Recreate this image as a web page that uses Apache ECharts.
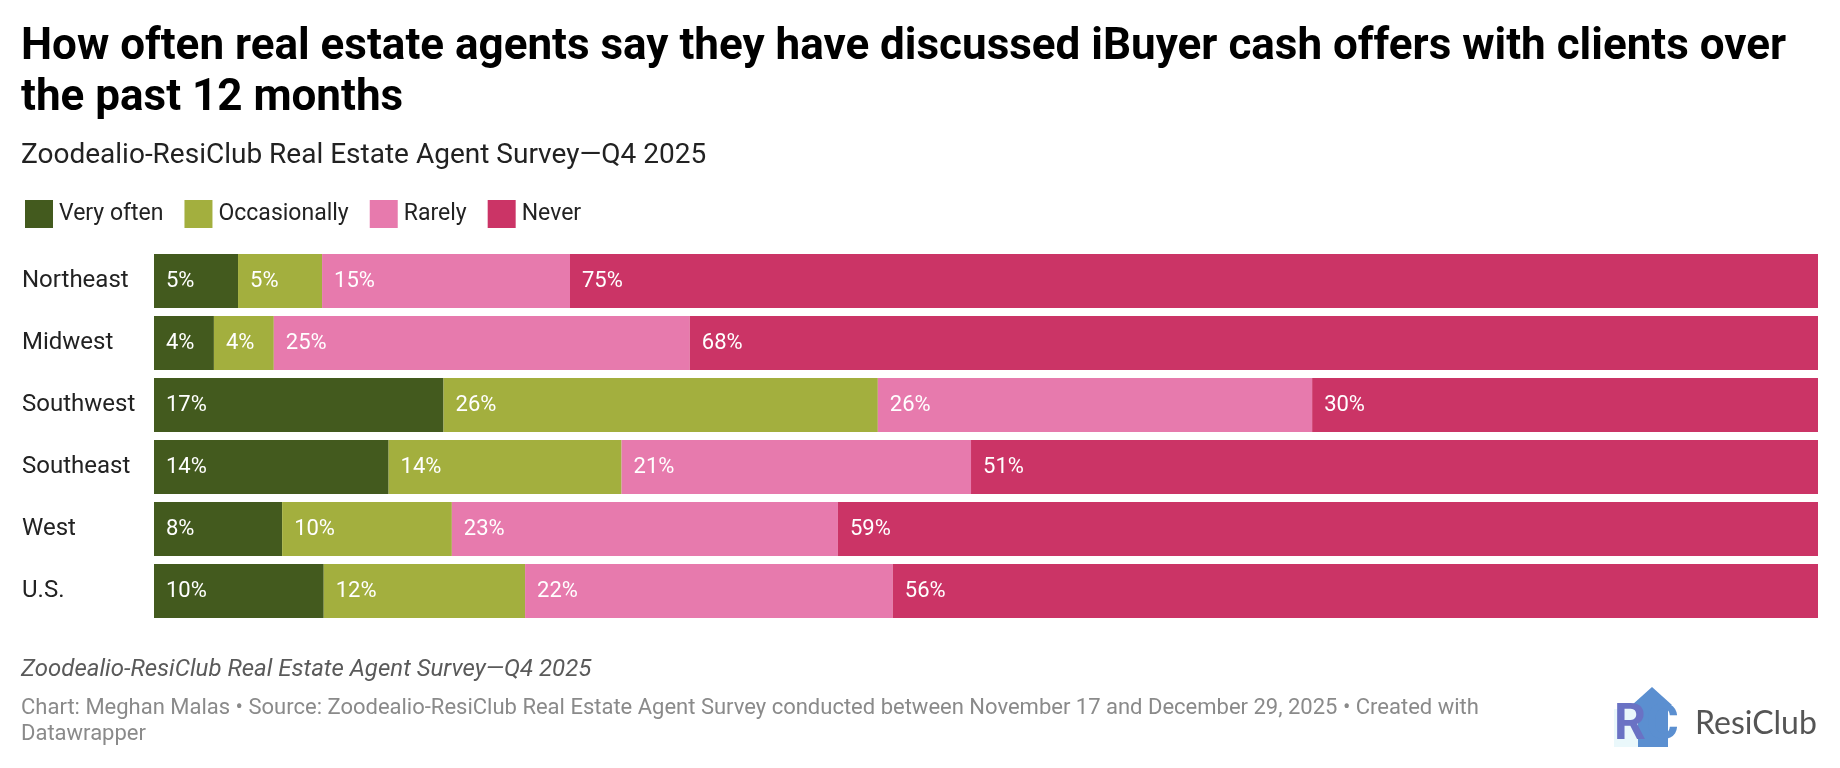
<!DOCTYPE html>
<html>
<head>
<meta charset="utf-8">
<script src="https://cdn.jsdelivr.net/npm/echarts@6/dist/echarts.min.js"></script>
<style>
html,body{margin:0;padding:0;background:#fff;}
#chart{width:1840px;height:768px;}
</style>
</head>
<body>
<div id="chart"></div>
<script>
const categories = ['Northeast', 'Midwest', 'Southwest', 'Southeast', 'West', 'U.S.'];
const seriesNames = ['Very often', 'Occasionally', 'Rarely', 'Never'];
const veryOften    = [5.05, 3.6, 17.4, 14.1, 7.7, 10.2];
const occasionally = [5.05, 3.6, 26.1, 14.0, 10.2, 12.1];
const rarely       = [14.9, 25.0, 26.1, 21.0, 23.2, 22.1];
const never        = [75.0, 67.8, 30.4, 50.9, 58.9, 55.6];
const colors = ['#435a1e', '#a3af3e', '#e77aad', '#cb3466'];

const titleLines = [
  'How often real estate agents say they have discussed iBuyer cash offers with clients over',
  'the past 12 months'
];
const subtitle = 'Zoodealio-ResiClub Real Estate Agent Survey\u2014Q4 2025';
const notes = 'Zoodealio-ResiClub Real Estate Agent Survey\u2014Q4 2025';
const sourceLines = [
  'Chart: Meghan Malas \u2022 Source: Zoodealio-ResiClub Real Estate Agent Survey conducted between November 17 and December 29, 2025 \u2022 Created with',
  'Datawrapper'
];

const allValues = [veryOften, occasionally, rarely, never];
const FONT = 'Roboto, "Noto Sans", sans-serif';

const chart = echarts.init(document.getElementById('chart'), null, {renderer: 'canvas'});

const series = seriesNames.map((name, i) => ({
  name: name,
  type: 'bar',
  stack: 'total',
  barWidth: 54,
  data: allValues[i],
  itemStyle: {color: colors[i]},
  emphasis: {disabled: true},
  label: {
    show: true,
    position: 'insideLeft',
    distance: 12,
    color: '#ffffff',
    fontFamily: FONT,
    fontSize: 22,
    formatter: p => Math.round(p.value) + '%'
  }
}));

chart.setOption({
  animation: false,
  backgroundColor: '#ffffff',
  textStyle: {fontFamily: FONT},
  legend: {
    left: 20,
    top: 195,
    itemWidth: 28,
    itemHeight: 28,
    itemGap: 21,
    icon: 'rect',
    selectedMode: false,
    data: seriesNames,
    textStyle: {fontFamily: FONT, fontSize: 23, color: '#222222', padding: [0, 0, 0, 1]}
  },
  grid: {left: 154, right: 22, top: 250, height: 372, containLabel: false},
  xAxis: {
    type: 'value', min: 0, max: 100, show: false
  },
  yAxis: {
    type: 'category',
    data: categories,
    inverse: true,
    axisLine: {show: false},
    axisTick: {show: false},
    axisLabel: {
      align: 'left',
      margin: 132,
      fontFamily: FONT,
      fontSize: 24,
      color: '#222222'
    }
  },
  series: series,
  graphic: [
    {type: 'text', left: 21, top: 26, style: {text: titleLines[0], font: 'bold 44px Roboto', fill: '#000000'}},
    {type: 'text', left: 21, top: 77, style: {text: titleLines[1], font: 'bold 44px Roboto', fill: '#000000'}},
    {type: 'text', left: 21, top: 142, style: {text: subtitle, font: '28px Roboto', fill: '#222222'}},
    {type: 'text', left: 21, top: 658, style: {text: notes, font: 'italic 24px Roboto', fill: '#5a5a5a'}},
    {type: 'text', left: 21, top: 697, style: {text: sourceLines[0], font: '22px Roboto', fill: '#8a8a8a'}},
    {type: 'text', left: 21, top: 723, style: {text: sourceLines[1], font: '22px Roboto', fill: '#8a8a8a'}},
    {type: 'group', left: 1614, top: 687, children: [
      {type: 'polygon', shape: {points: [[18, 18], [38, 0], [58, 18], [54, 18], [54, 60], [22, 60], [22, 18]]}, style: {fill: '#5b8fd0'}},
      {type: 'rect', shape: {x: 0, y: 22, width: 24, height: 38}, style: {fill: '#eaf8fb'}},
      {type: 'text', left: 0, top: 14, style: {text: 'R', font: 'bold 50px Roboto', fill: '#6a72c4'}},
      {type: 'text', left: 32, top: 14, style: {text: 'C', font: 'bold 50px Roboto', fill: '#5b8fd0'}},
      {type: 'text', left: 81, top: 21, style: {text: 'ResiClub', font: '32px Lato, "Open Sans", sans-serif', fill: '#555555'}}
    ]}
  ]
});
</script>
</body>
</html>
